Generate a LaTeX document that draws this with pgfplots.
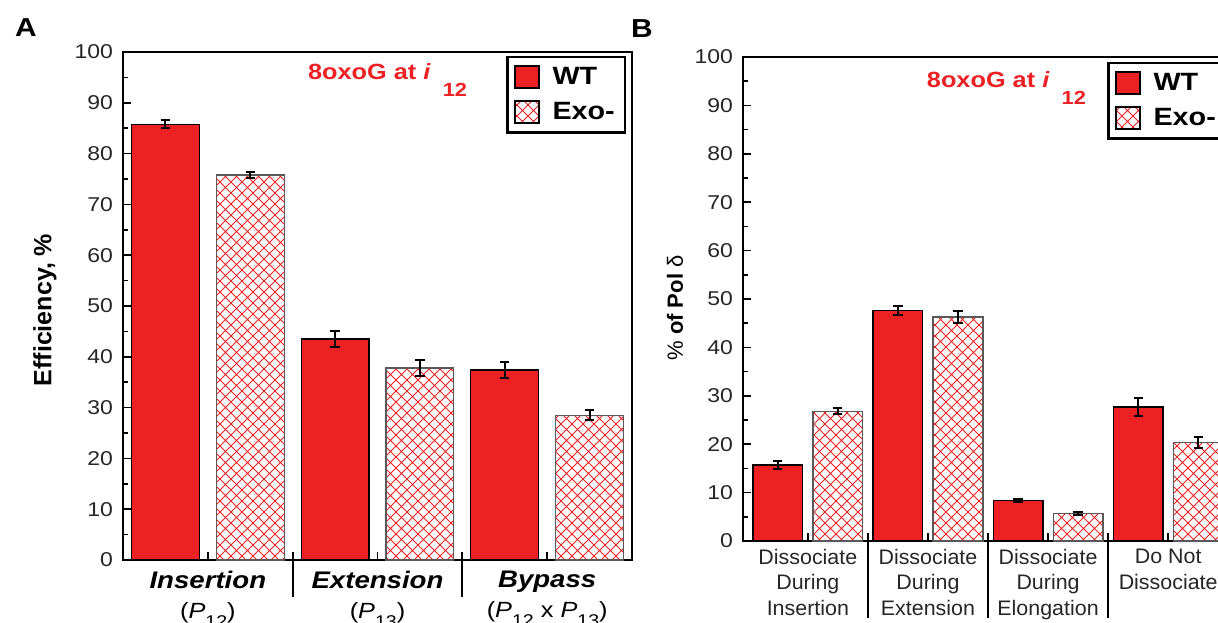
\documentclass[border=0pt]{standalone}
\usepackage{fontspec}
\setmainfont{Liberation Sans}[FakeStretch=1.15]
\newfontfamily\ylabfont{Liberation Sans}
\newfontfamily\catfont{Liberation Sans}[FakeStretch=1.02]
\usepackage{pgfplots}
\usepackage{pgfplotstable}
\pgfplotsset{compat=1.18}
\usetikzlibrary{patterns}
\definecolor{wtred}{RGB}{237,32,36}

\pgfdeclarepatternformonly{xhatch}{\pgfqpoint{-1pt}{-1pt}}{\pgfqpoint{6.5pt}{6.5pt}}{\pgfqpoint{5.5pt}{5.5pt}}{%
  \pgfsetlinewidth{0.45pt}%
  \pgfpathmoveto{\pgfqpoint{0pt}{0pt}}\pgfpathlineto{\pgfqpoint{5.5pt}{5.5pt}}%
  \pgfpathmoveto{\pgfqpoint{0pt}{5.5pt}}\pgfpathlineto{\pgfqpoint{5.5pt}{0pt}}%
  \pgfusepath{stroke}}

\newcommand{\sub}[1]{\raisebox{-4.5pt}{\fontsize{8.5}{10}\selectfont #1}}

\pgfplotstableread{
x y e
0 85.8 0.8
2 43.5 1.5
4 37.4 1.6
}\AWT
\pgfplotstableread{
x y e
1 75.8 0.6
3 37.8 1.5
5 28.5 1.0
}\AEXO
\pgfplotstableread{
x y e
0 15.7 0.8
2 47.6 1.0
4 8.4 0.3
6 27.7 1.8
}\BWT
\pgfplotstableread{
x y e
1 26.8 0.6
3 46.3 1.3
5 5.7 0.3
7 20.4 1.1
}\BEXO

\pgfplotsset{
  panel/.style={
    scale only axis, ybar, ymin=0, ymax=100,
    ytick={0,10,...,100}, minor y tick num=1,
    tick align=inside, ytick pos=left, xtick pos=lower,
    axis line style={line width=1pt},
    major tick length=4pt, minor tick length=2.5pt,
    every tick/.style={black, line width=0.8pt},
    yticklabel style={font=\fontsize{10}{12}\selectfont, text=black!85, xshift=-1.5pt},
    /pgf/number format/assume math mode=true,
    clip=false,
    every axis y label/.style={at={(axis description cs:0,0.5)}, rotate=90, anchor=center},
    legend style={at={(1,1)}, anchor=north east, xshift=-3pt, yshift=-2pt,
      draw=black, line width=1.2pt, font=\fontsize{12.5}{15}\selectfont\bfseries,
      inner xsep=3pt, inner ysep=3pt, row sep=3.5pt, cells={anchor=west},
      /tikz/every odd column/.append style={column sep=4.5pt}},
  },
  wtbar/.style={fill=wtred, draw=black, line width=0.6pt, bar shift=0pt,
    legend image code/.code={\draw[fill=wtred, draw=black, line width=1pt] (0pt,-5.5pt) rectangle (12pt,5.5pt);},
    error bars/.cd, y dir=both, y explicit,
    error bar style={line width=1pt, black},
    error mark options={rotate=90, mark size=2.3pt, line width=1pt, black}},
  exobar/.style={pattern=xhatch, pattern color=wtred, draw=black!65, line width=0.6pt, bar shift=0pt,
    legend image code/.code={\draw[pattern=xhatch, pattern color=wtred, draw=black, line width=1pt] (0pt,-5.5pt) rectangle (12pt,5.5pt);},
    error bars/.cd, y dir=both, y explicit,
    error bar style={line width=1pt, black},
    error mark options={rotate=90, mark size=2.3pt, line width=1pt, black}},
}

\begin{document}
\begin{tikzpicture}
\useasboundingbox (0,0) rectangle (609pt,311pt);
\clip (0,0) rectangle (609pt,311pt);

\node[font=\bfseries\fontsize{13}{15}\selectfont] at (13pt,297pt) {A};
\node[font=\bfseries\fontsize{13}{15}\selectfont] at (321pt,296.5pt) {B};

% Panel A
\begin{axis}[panel, at={(61.5pt,31pt)}, anchor=south west,
  width=254.5pt, height=254pt, bar width=0.8,
  xmin=-0.5, xmax=5.5, xtick={0.5,2.5,4.5},
  xticklabels={
    {{\fontsize{12}{14}\selectfont\bfseries\itshape Insertion}\\[3pt]{\fontsize{11}{12}\selectfont(\textit{P}\sub{12})}},
    {{\fontsize{12}{14}\selectfont\bfseries\itshape Extension}\\[3pt]{\fontsize{11}{12}\selectfont(\textit{P}\sub{13})}},
    {{\fontsize{12}{14}\selectfont\bfseries\itshape Bypass}\\[3pt]{\fontsize{11}{12}\selectfont(\textit{P}\sub{12} x \textit{P}\sub{13})}}},
  xticklabel style={align=center, font=\fontsize{10}{12}\selectfont, yshift=-2pt},
  ylabel={\ylabfont\bfseries\fontsize{12.5}{14}\selectfont Efficiency, \%},
  ylabel style={xshift=-2pt, yshift=39pt},
]
\addplot[wtbar] table[x=x, y=y, y error=e] {\AWT};
\addlegendentry{WT}
\addplot[exobar] table[x=x, y=y, y error=e] {\AEXO};
\addlegendentry{Exo-}
\draw[line width=1pt] (axis cs:1.5,1.6) -- (axis cs:1.5,-7.3);
\draw[line width=1pt] (axis cs:3.5,1.6) -- (axis cs:3.5,-7.3);
\node[anchor=base west, text=wtred, font=\bfseries\fontsize{11}{13}\selectfont]
  at (rel axis cs:0.3497,0.945) {8oxoG at \textit{i}\hspace{6pt}\raisebox{-8.5pt}{\fontsize{9.5}{12}\selectfont 12}};
\end{axis}

% Panel B
\begin{axis}[panel, at={(371.5pt,40.5pt)}, anchor=south west,
  width=245pt, height=242pt, bar width=0.83,
  xmin=-0.58, xmax=7.58, xtick={0.5,2.5,4.5,6.5},
  xticklabels={
    {Dissociate\\During\\Insertion},
    {Dissociate\\During\\Extension},
    {Dissociate\\During\\Elongation},
    {Do Not\\Dissociate}},
  xticklabel style={align=center, font=\catfont\fontsize{10.5}{12.75}\selectfont, text=black!85, yshift=-0.5pt},
  ylabel={\ylabfont\fontsize{11}{13}\selectfont \% \textbf{of Pol} δ},
  ylabel style={xshift=-4.5pt, yshift=34pt},
  legend style={yshift=-0.5pt},
]
\addplot[wtbar] table[x=x, y=y, y error=e] {\BWT};
\addlegendentry{WT}
\addplot[exobar] table[x=x, y=y, y error=e] {\BEXO};
\addlegendentry{Exo-}
\draw[line width=1pt] (axis cs:1.5,1.65) -- (axis cs:1.5,-15.9);
\draw[line width=1pt] (axis cs:3.5,1.65) -- (axis cs:3.5,-15.9);
\draw[line width=1pt] (axis cs:5.5,1.65) -- (axis cs:5.5,-15.9);
\node[anchor=base west, text=wtred, font=\bfseries\fontsize{11}{13}\selectfont]
  at (rel axis cs:0.361,0.938) {8oxoG at \textit{i}\hspace{6pt}\raisebox{-8.5pt}{\fontsize{9.5}{12}\selectfont 12}};
\end{axis}
\end{tikzpicture}
\end{document}
